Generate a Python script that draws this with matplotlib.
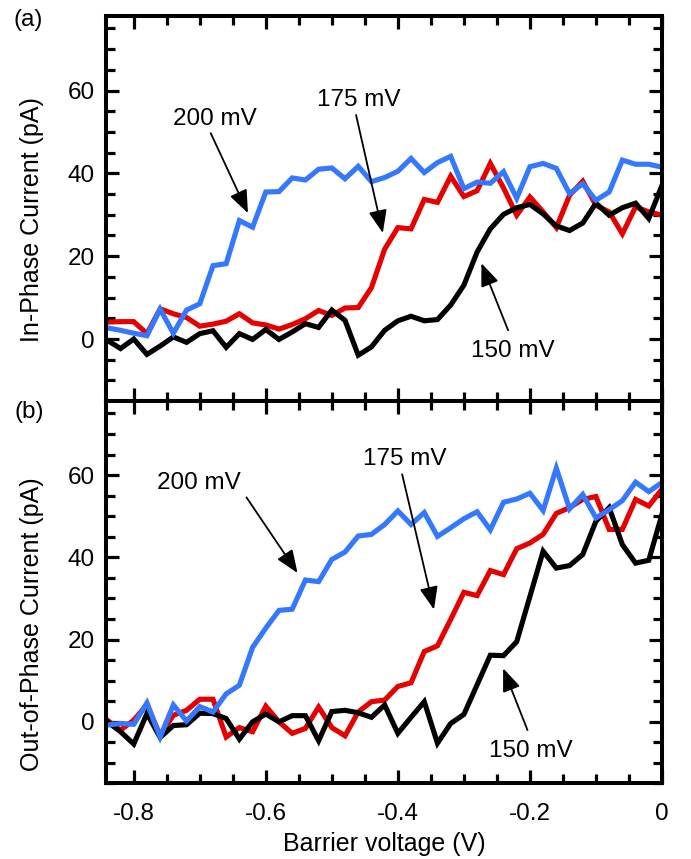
import numpy as np
import matplotlib
matplotlib.use('Agg')
import matplotlib.pyplot as plt
from matplotlib.ticker import MultipleLocator

plt.rcParams['font.family'] = ['Liberation Sans', 'DejaVu Sans']
plt.rcParams['axes.unicode_minus'] = False

# barrier voltage sweep (V), 20 mV steps
voltage = np.round(np.arange(43) * 0.02 - 0.84, 2)

# (a) in-phase current (pA)
inphase_150 = [-0.3, -2.3, 0.0, -3.7, -1.7, 0.5, -0.8, 1.3, 2.0, -2.0, 1.3,
               -0.1, 2.3, -0.1, 1.7, 3.7, 2.8, 7.0, 4.5, -3.9, -1.9, 2.1,
               4.4, 5.5, 4.4, 4.7, 8.2, 13.0, 21.0, 26.6, 30.1, 31.7, 32.5,
               30.2, 27.3, 26.2, 28.0, 32.8, 29.9, 31.7, 32.8, 29.1, 37.1]
inphase_175 = [4.1, 4.2, 4.2, 1.3, 7.3, 6.1, 5.2, 3.1, 3.6, 4.3, 6.1,
               3.9, 3.4, 2.4, 3.5, 4.9, 6.9, 5.7, 7.5, 7.6, 12.4, 21.7,
               26.9, 26.6, 33.7, 33.0, 39.3, 34.4, 35.8, 42.4, 36.5, 29.9, 34.3,
               30.7, 26.9, 34.7, 38.1, 32.3, 30.7, 25.4, 31.9, 30.7, 29.9]
inphase_200 = [2.7, 2.1, 1.4, 0.8, 7.2, 1.4, 7.0, 8.5, 17.7, 18.2, 28.6,
               27.0, 35.5, 35.6, 38.9, 38.4, 41.0, 41.3, 38.7, 41.7, 38.0, 39.0,
               40.5, 43.6, 40.2, 42.6, 44.1, 36.3, 37.9, 37.6, 40.4, 34.0, 41.6,
               42.4, 41.2, 35.1, 37.5, 33.5, 35.5, 43.2, 42.2, 42.2, 41.5]

# (b) out-of-phase current (pA)
outphase_150 = [0.0, -2.4, -5.4, 2.0, -3.8, -0.9, -0.7, 2.1, 2.0, 0.8, -4.2,
                0.0, 1.9, 0.0, 1.5, 1.5, -4.6, 2.5, 2.8, 2.2, 1.1, 4.1,
                -2.8, 1.1, 4.9, -5.2, -0.4, 1.8, 9.0, 16.2, 16.1, 19.5, 30.5,
                41.5, 37.4, 38.0, 40.7, 48.8, 52.1, 43.1, 38.6, 39.3, 50.5]
outphase_175 = [0.4, -2.0, 0.4, 4.2, -3.3, 1.6, 2.8, 5.5, 5.5, -3.7, -1.4,
                -2.4, 3.8, 0.0, -2.8, -1.6, 3.6, -1.4, -3.4, 2.4, 4.9, 5.3,
                8.6, 9.5, 17.1, 18.5, 24.9, 31.5, 30.7, 36.8, 35.8, 42.1, 43.5,
                45.6, 50.7, 52.1, 54.1, 54.8, 46.8, 46.8, 54.1, 52.5, 56.6]
outphase_200 = [-0.8, -0.4, -0.6, 4.6, -3.7, 4.1, 0.2, 3.7, 2.4, 6.8, 8.9,
                18.1, 22.8, 27.1, 27.4, 34.5, 34.1, 39.5, 41.3, 45.2, 45.6, 48.0,
                51.3, 48.0, 50.9, 45.1, 47.2, 49.4, 51.1, 46.7, 53.4, 54.2, 55.6,
                51.4, 61.7, 51.8, 55.3, 49.6, 51.6, 53.8, 58.3, 56.0, 58.2]

xticks = [-0.8, -0.6, -0.4, -0.2, 0.0]
xticklabels = ['-0.8', '-0.6', '-0.4', '-0.2', '0']
yticks = [0, 20, 40, 60]

BLUE = '#3478ff'
RED = '#e60000'


def style(ax):
    ax.set_xlim(-0.842, 0)
    ax.set_ylim(-15, 78)
    ax.set_xticks(xticks)
    ax.xaxis.set_minor_locator(MultipleLocator(0.05))
    ax.set_yticks(yticks)
    ax.yaxis.set_minor_locator(MultipleLocator(5))
    ax.tick_params(which='both', direction='in', top=True, right=True,
                   width=2.3, labelsize=17.5)
    ax.tick_params(which='major', length=9.5)
    ax.tick_params(which='minor', length=6.5)
    ax.tick_params(axis='y', pad=8)
    ax.tick_params(axis='x', pad=14)
    for s in ax.spines.values():
        s.set_linewidth(2.9)


def label(ax, text, xy, tail, tip):
    ax.text(xy[0], xy[1], text, ha='center', va='baseline', fontsize=17.5)
    ax.annotate('', xy=tip, xytext=tail,
                arrowprops=dict(arrowstyle='-|>,head_length=0.7,head_width=0.28',
                                mutation_scale=20, lw=1.3, color='k',
                                shrinkA=0, shrinkB=0))


fig = plt.figure(figsize=(6.91, 8.59), dpi=100)
ax1 = fig.add_axes([0.1534, 0.533, 0.8046, 0.4484])
ax2 = fig.add_axes([0.1534, 0.0879, 0.8046, 0.4451])

for ax, s150, s175, s200 in [(ax1, inphase_150, inphase_175, inphase_200),
                             (ax2, outphase_150, outphase_175, outphase_200)]:
    ax.plot(voltage, s175, color=RED, lw=3.7, solid_joinstyle='miter')
    ax.plot(voltage, s150, color='k', lw=3.7, solid_joinstyle='miter')
    ax.plot(voltage, s200, color=BLUE, lw=3.7, solid_joinstyle='miter')
    style(ax)

ax1.set_xticklabels([])
ax2.set_xticklabels(xticklabels)

ax1.text(-0.133, 0.472, 'In-Phase Current (pA)', transform=ax1.transAxes,
         rotation=90, ha='center', va='center', fontsize=18)
ax2.text(-0.133, 0.417, 'Out-of-Phase Current (pA)', transform=ax2.transAxes,
         rotation=90, ha='center', va='center', fontsize=18)
ax2.set_xlabel('Barrier voltage (V)', fontsize=18, labelpad=5)

label(ax1, '200 mV', (-0.6775, 51.7), (-0.6834, 49.7), (-0.627, 30.4))
label(ax1, '175 mV', (-0.4588, 56.3), (-0.4633, 54.1), (-0.4228, 25.6))
label(ax1, '150 mV', (-0.2264, -4.4), (-0.2330, 2.1), (-0.2735, 18.3))

label(ax2, '200 mV', (-0.7017, 56.6), (-0.6293, 54.6), (-0.5519, 36.2))
label(ax2, '175 mV', (-0.3889, 62.4), (-0.3935, 60.2), (-0.3453, 27.3))
label(ax2, '150 mV', (-0.1991, -8.6), (-0.2037, -2.0), (-0.2405, 13.0))

fig.text(0.0405, 0.9767, '(a)', ha='center', va='center', fontsize=17.5)
fig.text(0.042, 0.5204, '(b)', ha='center', va='center', fontsize=17.5)

fig.savefig('out.png', dpi=100)
